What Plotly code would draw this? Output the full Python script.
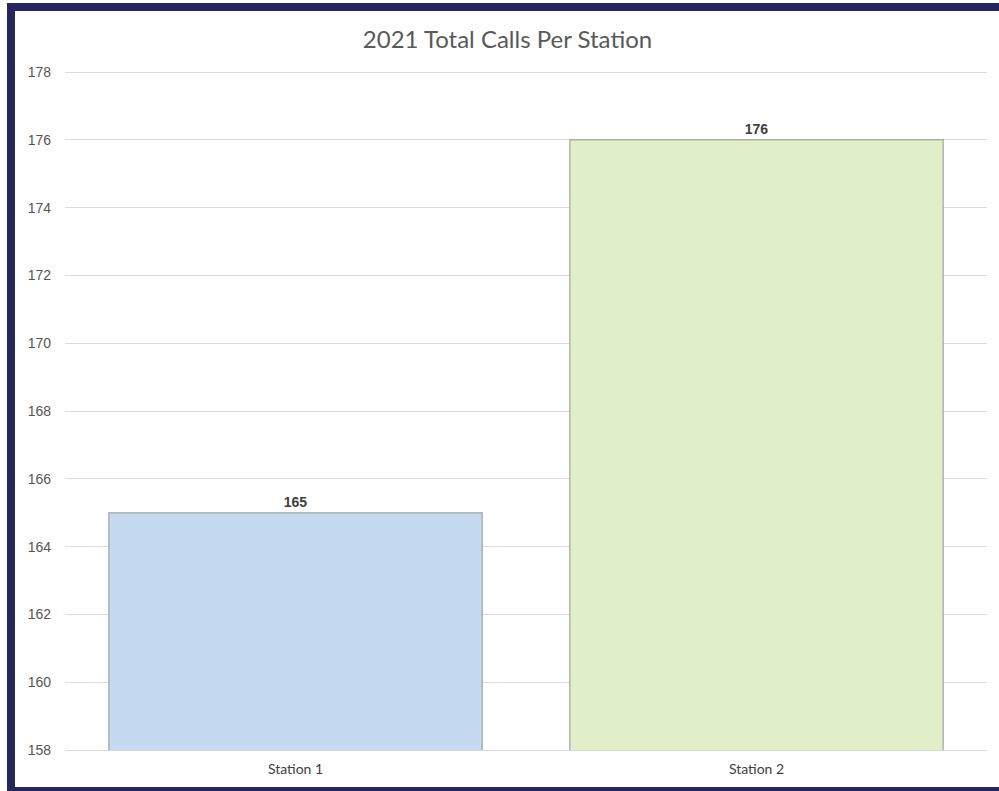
import plotly.graph_objects as go

# Call totals per station for 2021
stations = ["Station 1", "Station 2"]
total_calls = [165, 176]
bar_colors = ["#c5d9f1", "#e1efc9"]

y_ticks = [158, 160, 162, 164, 166, 168, 170, 172, 174, 176, 178]

fig = go.Figure(
    go.Bar(
        x=stations,
        y=total_calls,
        marker=dict(color=bar_colors, line=dict(color="rgba(120,120,120,0.5)", width=1.5)),
        text=[str(v) for v in total_calls],
        textposition="outside",
        textfont=dict(family="Liberation Sans", size=14, color="#404040"),
        texttemplate="<b>%{text}</b>",
        cliponaxis=False,
        hoverinfo="x+y",
    )
)

W, H = 999, 791
ML, MR, MT, MB = 65, 12, 71, 41
pw, ph = W - ML - MR, H - MT - MB


def px(x):
    return (x - ML) / pw


def py(y):
    return (H - MB - y) / ph


navy = "#26265f"

fig.update_layout(
    width=W,
    height=H,
    margin=dict(l=ML, r=MR, t=MT, b=MB),
    paper_bgcolor="white",
    plot_bgcolor="white",
    bargap=0.19,
    showlegend=False,
    title=dict(
        text="2021 Total Calls Per Station",
        x=0.508,
        xanchor="center",
        y=1 - 40 / H,
        yanchor="middle",
        font=dict(family="Lato", size=24, color="#595959"),
    ),
    xaxis=dict(
        showgrid=False,
        showline=True,
        linecolor="#d9d9d9",
        linewidth=1,
        ticks="",
        ticklabelstandoff=6,
        tickfont=dict(family="Lato", size=14, color="#404040"),
        fixedrange=True,
    ),
    yaxis=dict(
        range=[158, 178.03],
        tickvals=y_ticks,
        showgrid=True,
        gridcolor="#dcdcdc",
        gridwidth=1,
        zeroline=False,
        showline=False,
        ticks="",
        ticklabelstandoff=13,
        tickfont=dict(family="Liberation Sans", size=14, color="#555555"),
        fixedrange=True,
    ),
    shapes=[
        # dark frame on the top, left and bottom edges
        dict(type="rect", xref="paper", yref="paper", x0=px(7), x1=px(W), y0=py(11), y1=py(3),
             fillcolor=navy, line=dict(width=0), layer="above"),
        dict(type="rect", xref="paper", yref="paper", x0=px(7), x1=px(15), y0=py(H), y1=py(3),
             fillcolor=navy, line=dict(width=0), layer="above"),
        dict(type="rect", xref="paper", yref="paper", x0=px(7), x1=px(W), y0=py(H), y1=py(787),
             fillcolor=navy, line=dict(width=0), layer="above"),
    ],
)

fig.write_html("out.html")
